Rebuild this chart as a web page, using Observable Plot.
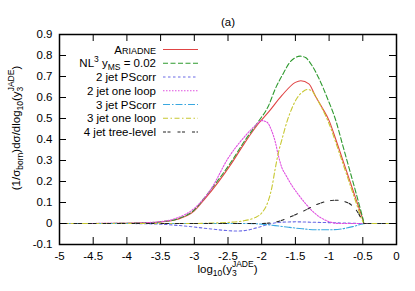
<!DOCTYPE html>
<html>
<head>
<meta charset="utf-8">
<script src="https://cdn.jsdelivr.net/npm/d3@7"></script>
<script src="https://cdn.jsdelivr.net/npm/@observablehq/plot@0.6"></script>
<style>
  html, body { margin: 0; padding: 0; background: #fff; }
  svg text { font-family: "Liberation Sans", Arial, sans-serif; }
</style>
</head>
<body>
<div id="chart"></div>
<script>
// ---- data ----
const xTicks = [-5, -4.5, -4, -3.5, -3, -2.5, -2, -1.5, -1, -0.5, 0];
const yTicks = [-0.1, 0, 0.1, 0.2, 0.3, 0.4, 0.5, 0.6, 0.7, 0.8, 0.9];

const ariadneX = [-5,-4.5,-4,-3.75,-3.5,-3.25,-3,-2.85,-2.65,-2.45,-2.25,-2.05,-1.9,-1.7,-1.5,-1.42,-1.3,-1.2,-1.1,-1,-0.9,-0.8,-0.7,-0.6,-0.5,-0.48,-0.25,0];
const ariadneY = [0,0,0.001,0.003,0.007,0.02,0.06,0.115,0.195,0.285,0.385,0.475,0.53,0.61,0.672,0.68,0.665,0.605,0.55,0.49,0.4,0.305,0.21,0.115,0.02,0,0,0];

const nl3X = [-5,-4.5,-4,-3.75,-3.5,-3.25,-3,-2.85,-2.65,-2.45,-2.25,-2.05,-1.9,-1.8,-1.67,-1.6,-1.5,-1.43,-1.35,-1.25,-1.15,-1.03,-0.9,-0.8,-0.7,-0.6,-0.5,-0.48,-0.25,0];
const nl3Y = [0,0,0.001,0.003,0.008,0.022,0.065,0.122,0.205,0.295,0.395,0.485,0.56,0.64,0.72,0.76,0.79,0.797,0.79,0.75,0.69,0.6,0.49,0.375,0.26,0.145,0.025,0,0,0];

const pscorr2X = [-5,-4,-3.75,-3.5,-3.25,-3,-2.75,-2.5,-2.35,-2.2,-2.05,-1.9,-1.75,-1.5,-1.25,-1,-0.75,-0.5,0];
const pscorr2Y = [0,0,-0.001,-0.003,-0.009,-0.017,-0.026,-0.034,-0.036,-0.031,-0.018,-0.004,0.005,0.008,0.006,0.004,0.002,0,0];

const loop2X = [-5,-4,-3.5,-3.25,-3,-2.75,-2.5,-2.25,-2.1,-2,-1.92,-1.85,-1.8,-1.75,-1.7,-1.65,-1.55,-1.45,-1.35,-1.25,-1.15,-1.05,-0.95,-0.85,0];
const loop2Y = [0,0.001,0.009,0.027,0.072,0.165,0.31,0.415,0.465,0.49,0.482,0.44,0.39,0.32,0.265,0.235,0.18,0.135,0.095,0.06,0.033,0.015,0.004,0,0];

const pscorr3X = [-5,-2.2,-2,-1.8,-1.6,-1.4,-1.2,-1,-0.8,-0.65,-0.5,-0.45,0];
const pscorr3Y = [0,0,-0.003,-0.01,-0.018,-0.025,-0.03,-0.03,-0.025,-0.015,-0.002,0,0];

const loop3X = [-5,-3,-2.75,-2.5,-2.25,-2.1,-2,-1.9,-1.85,-1.8,-1.75,-1.7,-1.62,-1.55,-1.47,-1.4,-1.32,-1.25,-1.2,-1.1,-1,-0.9,-0.8,-0.7,-0.6,-0.5,-0.48,0];
const loop3Y = [0,0,0.002,0.005,0.014,0.028,0.05,0.11,0.17,0.26,0.34,0.4,0.49,0.55,0.6,0.625,0.638,0.63,0.605,0.545,0.475,0.385,0.29,0.195,0.1,0.01,0,0];

const tree4X = [-5,-2,-1.9,-1.8,-1.7,-1.6,-1.5,-1.4,-1.3,-1.2,-1.1,-1,-0.9,-0.8,-0.7,-0.6,-0.55,-0.5,-0.48,0];
const tree4Y = [0,0,0.002,0.006,0.015,0.028,0.042,0.056,0.072,0.088,0.1,0.108,0.111,0.107,0.095,0.065,0.04,0.01,0,0];

const seriesNames = ["Ariadne", "NL3", "2 jet PScorr", "2 jet one loop", "3 jet PScorr", "3 jet one loop", "4 jet tree-level"];
const seriesColors = ["#e04444", "#2f9a2f", "#6a6ae6", "#e050e0", "#3aa8e0", "#c8c832", "#222222"];
const seriesDash = ["none", "5,2.5", "2.5,2.5", "1.5,1.5", "7,2,1.5,2", "5,2.5,1.5,2.5", "3,1.5,3,7"];
const seriesX = [ariadneX, nl3X, pscorr2X, loop2X, pscorr3X, loop3X, tree4X];
const seriesY = [ariadneY, nl3Y, pscorr2Y, loop2Y, pscorr3Y, loop3Y, tree4Y];

const rows = [];
seriesNames.forEach((name, i) => {
  seriesX[i].forEach((x, j) => rows.push({series: name, idx: i, x, y: seriesY[i][j]}));
});

// ---- layout ----
const W = 415, H = 291;
const mL = 59, mR = 19, mT = 34, mB = 47;
const pw = W - mL - mR, ph = H - mT - mB;
const tickLen = 7;
const fmt = d => (Math.abs(d) < 1e-9 ? "0" : String(+d.toFixed(2)));

const marks = [];
seriesNames.forEach((name, i) => {
  marks.push(Plot.line(rows.filter(r => r.idx === i), {
    x: "x", y: "y", curve: "monotone-x",
    stroke: seriesColors[i], strokeWidth: 1.1,
    strokeDasharray: seriesDash[i] === "none" ? null : seriesDash[i]
  }));
});

const chart = Plot.plot({
  width: W, height: H,
  marginLeft: mL, marginRight: mR, marginTop: mT, marginBottom: mB,
  style: {fontFamily: "'Liberation Sans', Arial, sans-serif", fontSize: "11.5px", color: "#000", background: "#fff"},
  x: {domain: [-5, 0]},
  y: {domain: [-0.1, 0.9]},
  marks: [
    ...marks,
    // inward ticks on all four sides (gnuplot style)
    Plot.tickX(xTicks, {x: d => d, insetTop: ph - tickLen, stroke: "#000"}),
    Plot.tickX(xTicks, {x: d => d, insetBottom: ph - tickLen, stroke: "#000"}),
    Plot.tickY(yTicks, {y: d => d, insetRight: pw - tickLen, stroke: "#000"}),
    Plot.tickY(yTicks, {y: d => d, insetLeft: pw - tickLen, stroke: "#000"}),
    Plot.axisX(xTicks, {tickSize: 0, tickPadding: 7, tickFormat: fmt, label: null}),
    Plot.axisY(yTicks, {tickSize: 0, tickPadding: 7, tickFormat: fmt, label: null}),
    Plot.frame({stroke: "#000", strokeWidth: 1.5}),
    Plot.text(["(a)"], {frameAnchor: "top", dy: -17, fontSize: 11.5})
  ]
});
document.getElementById("chart").appendChild(chart);

// ---- labels with sub/superscripts ----
const svg = d3.select(chart);
const small = 8.5;

// x-axis label
{
  const t = svg.append("text")
    .attr("x", mL + pw / 2).attr("y", 273)
    .attr("text-anchor", "middle").attr("font-size", 11.5).attr("fill", "#000");
  t.append("tspan").text("log");
  t.append("tspan").attr("font-size", small).attr("dy", 3).text("10");
  t.append("tspan").attr("dy", -3).text("(y");
  t.append("tspan").attr("font-size", small).attr("dy", 3).text("3");
  t.append("tspan").attr("font-size", small).attr("dx", -4.7).attr("dy", -9).text("JADE");
  t.append("tspan").attr("dy", 6).text(")");
}

// y-axis label (rotated)
{
  const t = svg.append("text")
    .attr("transform", "translate(20,128) rotate(-90)")
    .attr("text-anchor", "middle").attr("font-size", 11.5).attr("fill", "#000");
  t.append("tspan").text("(1/σ");
  t.append("tspan").attr("font-size", small).attr("dy", 3).text("born");
  t.append("tspan").attr("dy", -3).text(")dσ/dlog");
  t.append("tspan").attr("font-size", small).attr("dy", 3).text("10");
  t.append("tspan").attr("dy", -3).text("(y");
  t.append("tspan").attr("font-size", small).attr("dy", 3).text("3");
  t.append("tspan").attr("font-size", small).attr("dx", -4.7).attr("dy", -9).text("JADE");
  t.append("tspan").attr("dy", 6).text(")");
}

// legend
{
  const g = svg.append("g").attr("class", "legend");
  const x0 = 163, x1 = 198, tx = 156, top = 49.5, step = 13.75;
  seriesNames.forEach((name, i) => {
    const y = top + i * step;
    g.append("line").attr("x1", x0).attr("x2", x1).attr("y1", y).attr("y2", y)
      .attr("stroke", seriesColors[i]).attr("stroke-width", 1.1)
      .attr("stroke-dasharray", seriesDash[i] === "none" ? null : seriesDash[i]);
    const t = g.append("text").attr("x", tx).attr("y", y + 4)
      .attr("text-anchor", "end").attr("font-size", 11.5).attr("fill", "#000");
    if (i === 0) {
      t.append("tspan").text("A");
      t.append("tspan").attr("font-size", 9).text("RIADNE");
    } else if (i === 1) {
      t.append("tspan").text("NL");
      t.append("tspan").attr("font-size", small).attr("dy", -5).text("3");
      t.append("tspan").attr("dy", 5).text(" y");
      t.append("tspan").attr("font-size", small).attr("dy", 3).text("MS");
      t.append("tspan").attr("dy", -3).text(" = 0.02");
    } else {
      t.text(name);
    }
  });
}
</script>
</body>
</html>
